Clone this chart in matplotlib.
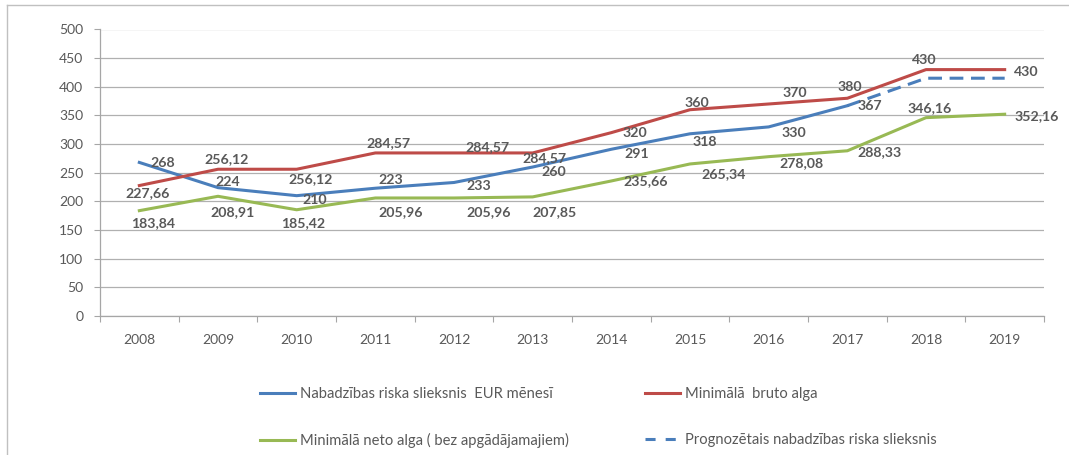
import matplotlib
matplotlib.use("Agg")
import matplotlib.pyplot as plt
from matplotlib.lines import Line2D

years = ["2008", "2009", "2010", "2011", "2012", "2013",
         "2014", "2015", "2016", "2017", "2018", "2019"]
poverty = [268, 224, 210, 223, 233, 260, 291, 318, 330, 367]
gross_min = [227.66, 256.12, 256.12, 284.57, 284.57, 284.57,
             320, 360, 370, 380, 430, 430]
net_min = [183.84, 208.91, 185.42, 205.96, 205.96, 207.85,
           235.66, 265.34, 278.08, 288.33, 346.16, 352.16]
forecast_years = ["2017", "2018", "2019"]
forecast = [367, 415, 415]

names = ["Nabadzības riska slieksnis  EUR mēnesī",
         "Minimālā  bruto alga",
         "Minimālā neto alga ( bez apgādājamajiem)",
         "Prognozētais nabadzības riska slieksnis"]

# data label offsets in pixels (dx, dy up)
poverty_off = [(23, -1), (10, 6), (18, -4), (15, 8), (25, -3.5), (21.5, -4.7),
               (25.5, -4.7), (15, -8.5), (25.6, -6.4), (23, 0)]
gross_off = [(8, -8), (9, 10), (14, -10), (13, 9.6), (33, 6), (12, -5.4),
             (24, 0), (7, 7), (26, 10.7), (3, 11), (-2, 10), (22, -2)]
net_off = [(14, -12), (15, -16), (7, -13), (25.5, -14.3), (34.5, -14.3), (21.5, -14.8),
           (34, 0), (34, -10), (33, -6.6), (32.5, -1), (4, 10), (32, -2)]

BLUE, RED, GREEN = "#4a7ebb", "#be4b48", "#98b954"
TXT = "#595959"

plt.rcParams["font.family"] = ["Lato", "DejaVu Sans"]

W, H = 1069, 455
fig = plt.figure(figsize=(W / 100, H / 100), dpi=100)
ax = fig.add_axes([100 / W, 1 - 316 / H, (1044 - 100) / W, (316 - 29.5) / H])

x = list(range(len(years)))
pos = {y: i for i, y in enumerate(years)}

ax.plot(x[:len(poverty)], poverty, color=BLUE, lw=2.2, zorder=3)
ax.plot(x, gross_min, color=RED, lw=2.2, zorder=3)
ax.plot(x, net_min, color=GREEN, lw=2.2, zorder=3)
ax.plot([pos[y] for y in forecast_years], forecast, color=BLUE, lw=2.2,
        dashes=(4.5, 2.5), zorder=3)


def fmt(v):
    return f"{v:g}".replace(".", ",")


for vals, offs in ((poverty, poverty_off), (gross_min, gross_off), (net_min, net_off)):
    for i, (v, (dx, dy)) in enumerate(zip(vals, offs)):
        ax.annotate(fmt(v), (i, v), xytext=(dx * 0.72, dy * 0.72),
                    textcoords="offset points", ha="center", va="center",
                    fontsize=10.2, fontweight="bold", color=TXT, zorder=4)

ax.set_ylim(0, 500)
ax.set_xlim(-0.5, len(years) - 0.5)
ax.set_yticks(range(0, 501, 50))
ax.set_xticks(x, years)
ax.set_xticks([i - 0.5 for i in range(len(years) + 1)], minor=True)
ax.tick_params(axis="x", which="major", length=0, pad=13, labelsize=10, labelcolor=TXT)
ax.tick_params(axis="x", which="minor", length=4, color="#a6a6a6", width=0.8)
ax.tick_params(axis="y", length=4, color="#a6a6a6", width=0.8, pad=8, labelsize=10,
               labelcolor=TXT)
ax.grid(axis="y", color="#b0b0b0", lw=0.9)
ax.set_axisbelow(True)
for s in ("top", "right"):
    ax.spines[s].set_visible(False)
for s in ("left", "bottom"):
    ax.spines[s].set_color("#a6a6a6")
    ax.spines[s].set_linewidth(0.9)

h_blue = Line2D([], [], color=BLUE, lw=2.2)
h_red = Line2D([], [], color=RED, lw=2.2)
h_green = Line2D([], [], color=GREEN, lw=2.2)
h_dash = Line2D([], [], color=BLUE, lw=2.2, dashes=(3.3, 3.3))

leg_kw = dict(frameon=False, fontsize=10.6, handlelength=2.4, handletextpad=0.35,
              labelspacing=2.2, borderaxespad=0, borderpad=0, labelcolor=TXT,
              loc="upper left")
fig.legend([h_blue, h_green], [names[0], names[2]],
           bbox_to_anchor=(260 / W, 1 - 387 / H), **leg_kw)
fig.legend([h_red, h_dash], [names[1], names[3]],
           bbox_to_anchor=(645 / W, 1 - 387 / H), **leg_kw)

# chart frame (cropped)
fig.add_artist(Line2D([7 / W, 1.0], [1 - 5 / H, 1 - 5 / H],
                      transform=fig.transFigure, color="#c0c0c0", lw=1))
fig.add_artist(Line2D([7 / W, 7 / W], [0, 1 - 5 / H],
                      transform=fig.transFigure, color="#c0c0c0", lw=1))

fig.savefig("out.png", dpi=100)
